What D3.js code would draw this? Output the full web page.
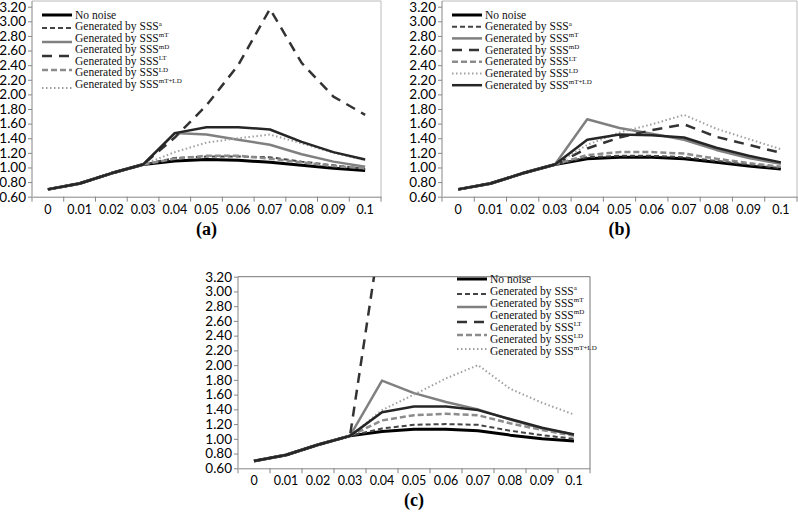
<!DOCTYPE html>
<meta charset="utf-8">
<html>
<head>
  <style>
    body{margin:0; background:#fff;}
    svg{display:block;}
  </style>
</head>
<body>
<script src="https://cdn.jsdelivr.net/npm/d3@7/dist/d3.min.js"></script>
<script>
  // noise levels on the x axis
  var noiseLevels = ['0','0.01','0.02','0.03','0.04','0.05','0.06','0.07','0.08','0.09','0.1'];
  var yTickValues = [0.6,0.8,1.0,1.2,1.4,1.6,1.8,2.0,2.2,2.4,2.6,2.8,3.0,3.2];

  // legend entries: [main text, superscript]
  var legendLabels = [['No noise',''],['Generated by SSS','a'],['Generated by SSS','mT'],
    ['Generated by SSS','mD'],['Generated by SSS','LT'],['Generated by SSS','LD'],['Generated by SSS','mT+LD']];

  // panel (a)
  var aNoNoise = [0.70,0.78,0.92,1.04,1.09,1.11,1.10,1.07,1.03,0.99,0.96];
  var aSSSa    = [0.70,0.78,0.92,1.04,1.13,1.15,1.15,1.14,1.08,1.03,0.98];
  var aSSSmT   = [0.70,0.78,0.92,1.04,1.47,1.45,1.38,1.31,1.18,1.08,1.01];
  var aSSSmD   = [0.70,0.78,0.92,1.04,1.41,1.85,2.40,3.17,2.43,1.97,1.72];
  var aSSSLT   = [0.70,0.78,0.92,1.04,1.12,1.16,1.16,1.12,1.07,1.02,0.99];
  var aSSSLD   = [0.70,0.78,0.92,1.04,1.21,1.34,1.40,1.45,1.33,1.20,1.10];
  var aSSSmTLD = [0.70,0.78,0.92,1.04,1.47,1.55,1.55,1.52,1.35,1.21,1.11];

  // panel (b)
  var bNoNoise = [0.70,0.78,0.92,1.04,1.12,1.14,1.14,1.12,1.07,1.02,0.98];
  var bSSSa    = [0.70,0.78,0.92,1.04,1.14,1.16,1.16,1.14,1.09,1.04,0.99];
  var bSSSmT   = [0.70,0.78,0.92,1.04,1.66,1.54,1.46,1.38,1.24,1.13,1.05];
  var bSSSmD   = [0.70,0.78,0.92,1.04,1.26,1.41,1.51,1.59,1.42,1.31,1.20];
  var bSSSLT   = [0.70,0.78,0.92,1.04,1.17,1.21,1.21,1.19,1.12,1.06,1.01];
  var bSSSLD   = [0.70,0.78,0.92,1.04,1.31,1.48,1.59,1.72,1.53,1.39,1.25];
  var bSSSmTLD = [0.70,0.78,0.92,1.04,1.38,1.45,1.44,1.41,1.27,1.16,1.07];

  // panel (c) - mD leaves the chart after 0.04, later values not readable
  var cNoNoise = [0.70,0.78,0.92,1.04,1.10,1.13,1.13,1.11,1.05,1.00,0.97];
  var cSSSa    = [0.70,0.78,0.92,1.04,1.14,1.19,1.20,1.19,1.11,1.05,1.00];
  var cSSSmT   = [0.70,0.78,0.92,1.04,1.79,1.62,1.50,1.40,1.26,1.14,1.06];
  var cSSSmD   = [0.70,0.78,0.92,1.04,3.92,null,null,null,null,null,null];
  var cSSSLT   = [0.70,0.78,0.92,1.04,1.25,1.32,1.34,1.32,1.21,1.12,1.04];
  var cSSSLD   = [0.70,0.78,0.92,1.04,1.39,1.60,1.82,2.00,1.68,1.49,1.33];
  var cSSSmTLD = [0.70,0.78,0.92,1.04,1.36,1.44,1.44,1.39,1.27,1.15,1.06];

  // line styles, same order as the legend
  var styles = [
    {color:'#000',    width:3,   dash:null},
    {color:'#444',    width:2,   dash:'5,3'},
    {color:'#808080', width:2.5, dash:null},
    {color:'#333',    width:2.5, dash:'10,7'},
    {color:'#8c8c8c', width:2.5, dash:'6,3'},
    {color:'#a0a0a0', width:2,   dash:'1.5,2.5'},
    {color:'#262626', width:2.5, dash:null}
  ];

  var panels = [
    {name:'(a)', left:32, right:381, top:6.7, bottom:196.7, boxTop:1,
     series:[aNoNoise,aSSSa,aSSSmT,aSSSmD,aSSSLT,aSSSLD,aSSSmTLD],
     legend:{x:42, y:15, row:11.5, samples:[0,13,27,41,55,73], sampleStyles:[0,1,2,3,4,5]}},
    {name:'(b)', left:442, right:797, top:6.7, bottom:196.7, boxTop:1,
     series:[bNoNoise,bSSSa,bSSSmT,bSSSmD,bSSSLT,bSSSLD,bSSSmTLD],
     legend:{x:452, y:15, row:11.7, samples:[0,11.7,23.4,35.1,46.8,58.5,70.2], sampleStyles:[0,1,2,3,4,5,6]}},
    {name:'(c)', left:238, right:590, top:276.7, bottom:468.3, boxTop:276.7,
     series:[cNoNoise,cSSSa,cSSSmT,cSSSmD,cSSSLT,cSSSLD,cSSSmTLD],
     legend:{x:457, y:279, row:12, samples:[0,15,28,43,56,70], sampleStyles:[0,1,2,3,4,5]}}
  ];

  var width = 798, height = 519;
  var svg = d3.select('body').append('svg')
      .attr('width', width).attr('height', height);
  svg.append('rect').attr('width', width).attr('height', height).attr('fill', '#fff');

  var axisColor = '#868686';
  var tickFont = 'Lato, sans-serif';
  var serif = 'Liberation Serif, Times New Roman, serif';

  panels.forEach(function(p, pi){
    var x = d3.scaleBand().domain(noiseLevels).range([p.left, p.right]);
    var y = d3.scaleLinear().domain([0.6, 3.2]).range([p.bottom, p.top]);
    var g = svg.append('g');

    var clipId = 'clip' + pi;
    g.append('clipPath').attr('id', clipId)
      .append('rect').attr('x', p.left).attr('y', p.top)
      .attr('width', p.right - p.left).attr('height', p.bottom - p.top);

    // plot area border (top + right)
    g.append('path')
      .attr('d', 'M' + p.left + ',' + p.boxTop + 'H' + p.right + 'V' + p.bottom)
      .attr('fill', 'none').attr('stroke', pi == 2 ? '#777' : '#bbb').attr('stroke-width', 1);

    // y axis
    var ya = g.append('g').attr('transform', 'translate(' + p.left + ',0)')
      .call(d3.axisLeft(y).tickValues(yTickValues).tickFormat(d3.format('.2f')).tickSize(4).tickPadding(2));
    ya.select('.domain').attr('stroke', axisColor).attr('d', 'M0,' + p.boxTop + 'V' + p.bottom);
    ya.selectAll('.tick line').attr('stroke', axisColor);
    ya.selectAll('text').attr('fill', '#000')
      .attr('font-family', tickFont).attr('font-size', 13.5);

    // x axis
    var xa = g.append('g').attr('transform', 'translate(0,' + p.bottom + ')')
      .call(d3.axisBottom(x).tickSize(0).tickPadding(8));
    xa.select('.domain').attr('stroke', axisColor);
    xa.selectAll('text').attr('fill', '#000')
      .attr('font-family', tickFont).attr('font-size', 12.5);
    xa.selectAll('.bound').data(noiseLevels.concat(['end'])).enter().append('line')
      .attr('x1', function(d){ return d == 'end' ? p.right : x(d); })
      .attr('x2', function(d){ return d == 'end' ? p.right : x(d); })
      .attr('y1', 0).attr('y2', 5).attr('stroke', axisColor);

    // lines
    var line = d3.line()
      .defined(function(d){ return d.v != null; })
      .x(function(d){ return x(d.k) + x.bandwidth() / 2; })
      .y(function(d){ return y(d.v); });

    var lg = g.append('g').attr('clip-path', 'url(#' + clipId + ')');
    p.series.forEach(function(vals, si){
      var s = styles[si];
      lg.append('path')
        .datum(noiseLevels.map(function(k, i){ return {k:k, v:vals[i]}; }))
        .attr('d', line)
        .attr('fill', 'none')
        .attr('stroke', s.color)
        .attr('stroke-width', s.width)
        .attr('stroke-dasharray', s.dash)
        .attr('stroke-linejoin', 'round');
    });

    // legend
    var L = p.legend;
    L.samples.forEach(function(off, i){
      var s = styles[L.sampleStyles[i]];
      g.append('line')
        .attr('x1', L.x).attr('x2', L.x + 30)
        .attr('y1', L.y + off).attr('y2', L.y + off)
        .attr('stroke', s.color).attr('stroke-width', s.width)
        .attr('stroke-dasharray', s.dash);
    });
    legendLabels.forEach(function(lab, i){
      var t = g.append('text')
        .attr('x', L.x + 33).attr('y', L.y + i * L.row + 3.5)
        .attr('font-family', serif).attr('font-size', 11.5).attr('fill', '#111');
      t.append('tspan').text(lab[0]);
      if(lab[1]) t.append('tspan').attr('dy', -4.5).attr('font-size', 7).text(lab[1]);
    });

    // panel label
    svg.append('text')
      .attr('x', (p.left + p.right) / 2).attr('y', p.bottom + 38)
      .attr('text-anchor', 'middle')
      .attr('font-family', serif).attr('font-weight', 'bold').attr('font-size', 18)
      .text(p.name);
  });
</script>
</body>
</html>
